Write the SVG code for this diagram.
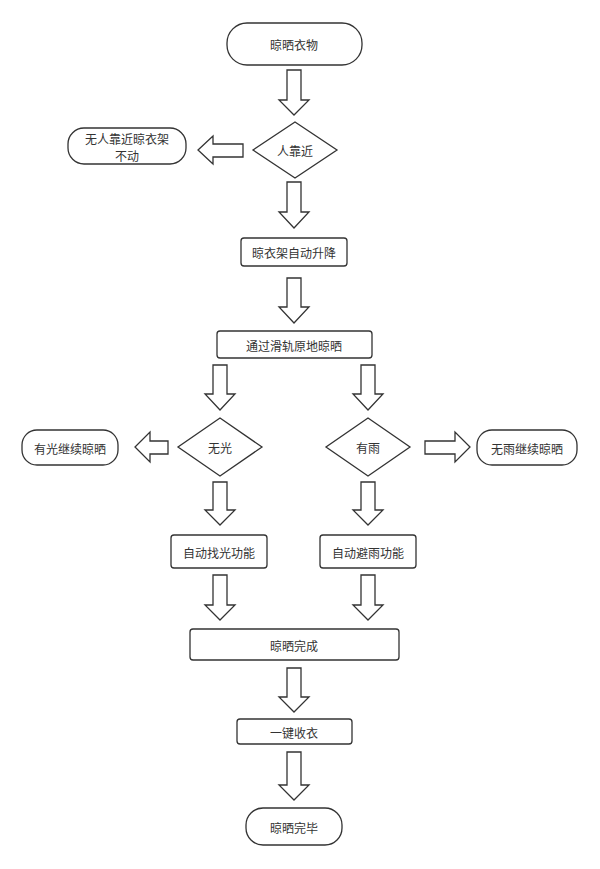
<svg xmlns="http://www.w3.org/2000/svg" width="600" height="869" viewBox="0 0 600 869">
<style>
.n{fill:#fff;stroke:#333;stroke-width:1.3}
.a{fill:#fff;stroke:#333;stroke-width:1.3}
text{font-family:"Noto Sans CJK SC",sans-serif;font-size:12px;fill:#333;text-anchor:middle;dominant-baseline:central}
</style>
<rect width="600" height="869" fill="#fff"/>
<g id="connectors">
<polygon class="a" points="287,70 301,70 301,100 309,100 294,115 279,100 287,100"/>
<polygon class="a" points="243,144 243,157 213,157 213,164 198,150 213,136 213,144"/>
<polygon class="a" points="287,182 301,182 301,212 309,212 294,228 279,212 287,212"/>
<polygon class="a" points="287,278 301,278 301,307 309,307 294,323 279,307 287,307"/>
<polygon class="a" points="213,365 227,365 227,394 235,394 220,410 205,394 213,394"/>
<polygon class="a" points="361,365 375,365 375,394 383,394 368,410 353,394 361,394"/>
<polygon class="a" points="168,441 168,454 150,454 150,462 135,447 150,432 150,441"/>
<polygon class="a" points="425,441 425,454 455,454 455,462 470,447 455,432 455,441"/>
<polygon class="a" points="213,482 227,482 227,510 235,510 220,525 205,510 213,510"/>
<polygon class="a" points="361,482 375,482 375,510 383,510 368,525 353,510 361,510"/>
<polygon class="a" points="213,575 227,575 227,605 235,605 220,620 205,605 213,605"/>
<polygon class="a" points="361,575 375,575 375,605 383,605 368,620 353,605 361,605"/>
<polygon class="a" points="287,668 301,668 301,697 309,697 294,712 279,697 287,697"/>
<polygon class="a" points="287,752 301,752 301,785 309,785 294,800 279,785 287,785"/>
</g>
<g id="start"><rect class="n" x="227" y="23" width="135" height="42" rx="20"/><text x="294" y="44">晾晒衣物</text></g>
<g id="d1"><polygon class="n" points="295,122 337,150 295,178 253,150"/><text x="295" y="150">人靠近</text></g>
<g id="noperson"><rect class="n" x="68" y="128" width="118" height="36" rx="16"/><text x="127" y="138">无人靠近晾衣架</text><text x="127" y="155">不动</text></g>
<g id="lift"><rect class="n" x="241" y="238" width="106" height="28" rx="3"/><text x="294" y="252">晾衣架自动升降</text></g>
<g id="rail"><rect class="n" x="217" y="331" width="155" height="27" rx="3"/><text x="294" y="345">通过滑轨原地晾晒</text></g>
<g id="d2"><polygon class="n" points="220,418 262,447 220,476 178,447"/><text x="220" y="447">无光</text></g>
<g id="d3"><polygon class="n" points="368,418 410,447 368,476 326,447"/><text x="368" y="447">有雨</text></g>
<g id="light"><rect class="n" x="22" y="430" width="96" height="35" rx="15"/><text x="70" y="448">有光继续晾晒</text></g>
<g id="norain"><rect class="n" x="477" y="430" width="100" height="35" rx="15"/><text x="527" y="448">无雨继续晾晒</text></g>
<g id="findlight"><rect class="n" x="171" y="535" width="96" height="33" rx="3"/><text x="219" y="552">自动找光功能</text></g>
<g id="avoidrain"><rect class="n" x="320" y="535" width="96" height="33" rx="3"/><text x="368" y="552">自动避雨功能</text></g>
<g id="done"><rect class="n" x="190" y="629" width="209" height="31" rx="3"/><text x="294" y="645">晾晒完成</text></g>
<g id="collect"><rect class="n" x="237" y="719" width="115" height="25" rx="3"/><text x="294" y="732">一键收衣</text></g>
<g id="end"><rect class="n" x="246" y="808" width="96" height="37" rx="17"/><text x="294" y="827">晾晒完毕</text></g>
</svg>
